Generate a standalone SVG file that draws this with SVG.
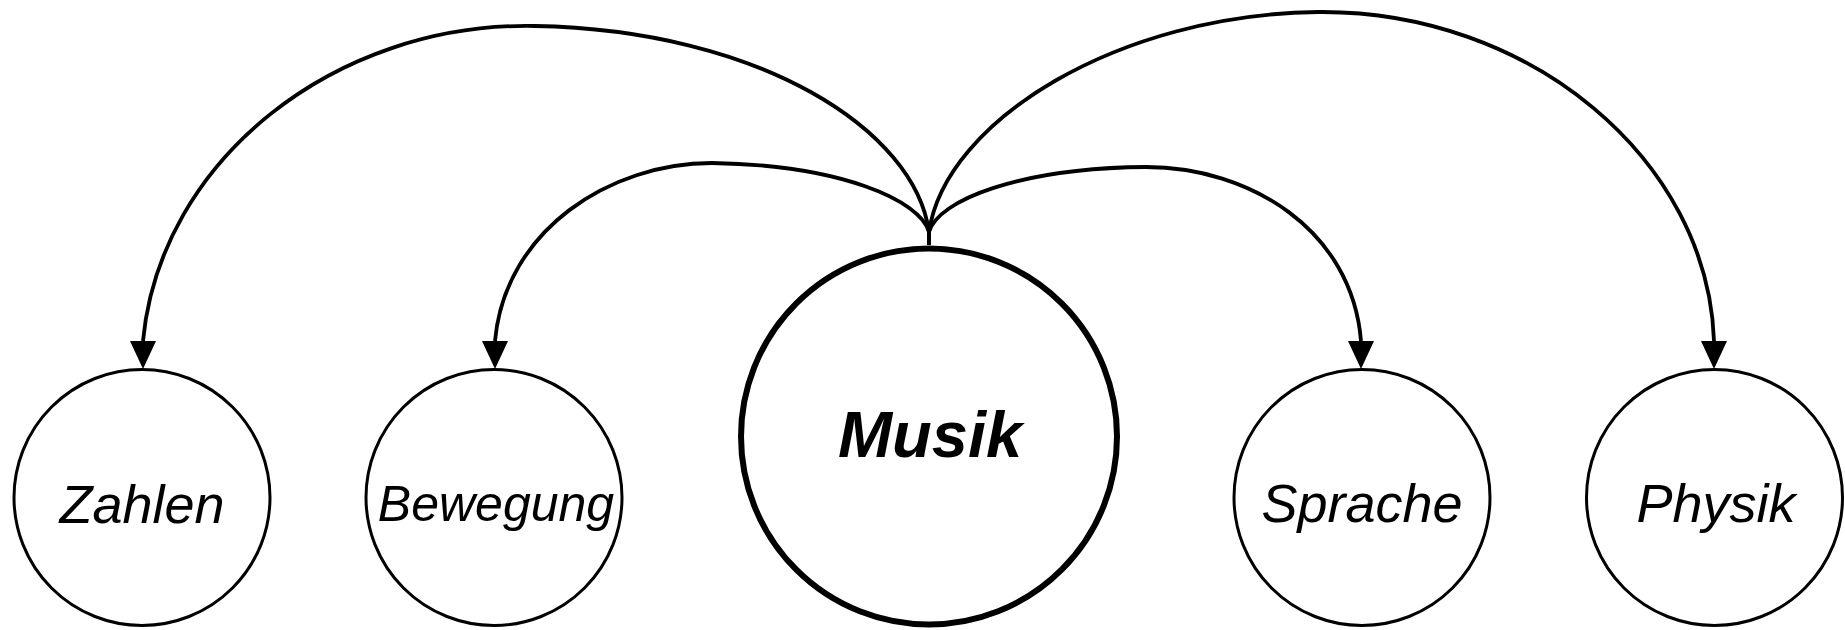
<svg xmlns="http://www.w3.org/2000/svg" width="1845" height="630" viewBox="0 0 1845 630">
<style>
.node{fill:#fff;stroke:#000;stroke-width:3}
.main{fill:#fff;stroke:#000;stroke-width:6}
.lbl{font-family:"Liberation Sans",Arial,sans-serif;font-style:italic;font-size:54px;fill:#000;text-anchor:middle}
.big{font-weight:bold;font-size:65px}
.edge{fill:none;stroke:#000;stroke-width:3.8}
</style>
<defs>
<marker id="arr" markerUnits="userSpaceOnUse" markerWidth="28" markerHeight="26" refX="0" refY="13" orient="90" viewBox="0 0 28 26">
<path d="M0,0 L28,13 L0,26 z" fill="#000"/>
</marker>
</defs>
<g id="connectors">
<path class="edge" marker-end="url(#arr)" d="M929,245 L929,232 C915,130 760,30 535,26 C335,22 160,160 143,341"/>
<path class="edge" marker-end="url(#arr)" d="M929,245 L929,232 C920,200 840,165 712,163 C610,163 505,230 495,341"/>
<path class="edge" marker-end="url(#arr)" d="M929,245 L929,232 C938,200 1020,168 1146,167 C1250,167 1352,230 1361,341"/>
<path class="edge" marker-end="url(#arr)" d="M929,245 L929,232 C945,120 1120,14 1318,12 C1530,10 1708,160 1714,341"/>
</g>
<g id="zahlen"><circle class="node" cx="142" cy="497.5" r="128"/><text class="lbl" x="142" y="523">Zahlen</text></g>
<g id="bewegung"><circle class="node" cx="494" cy="497.5" r="128"/><text class="lbl" x="496" y="521" style="font-size:50px">Bewegung</text></g>
<g id="musik"><circle class="main" cx="929" cy="436.5" r="188"/><text class="lbl big" x="930" y="457">Musik</text></g>
<g id="sprache"><circle class="node" cx="1362" cy="497.5" r="128"/><text class="lbl" x="1362" y="522">Sprache</text></g>
<g id="physik"><circle class="node" cx="1714.5" cy="497.5" r="128"/><text class="lbl" x="1716" y="522">Physik</text></g>
</svg>
